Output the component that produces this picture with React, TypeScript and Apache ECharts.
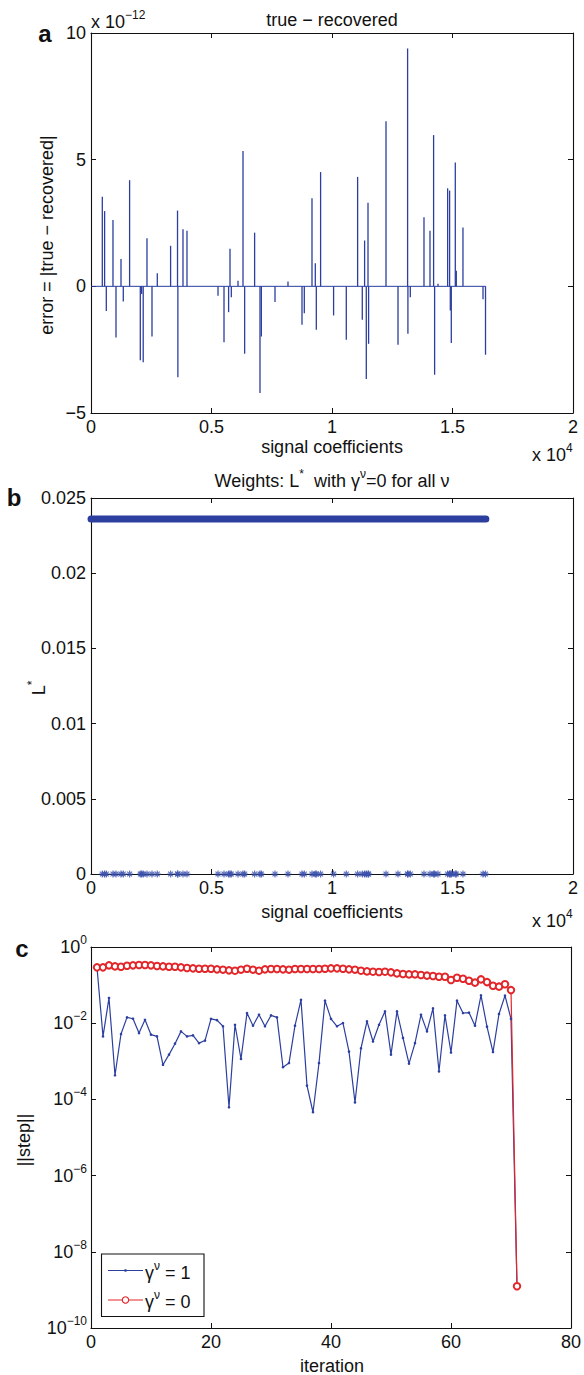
import React, { useEffect, useRef } from "react";
import * as echarts from "echarts";

const FONT = "'Liberation Sans', Arial, Helvetica, sans-serif";
const BLUE = "#2c3f9f";
const RED = "#e3262a";
const INK = "#111";

// ---------- Panel a: error per signal coefficient (units of 1e-12) ----------
const N_COEFF = 16384;
const spikeIdx = [469, 565, 635, 912, 1037, 1245, 1340, 1602, 2046, 2100, 2166, 2323, 2531, 2751, 3303, 3590, 3605, 3817, 3983, 5270, 5519, 5710, 5768, 5822, 6100, 6307, 6375, 6789, 7012, 7068, 7635, 8174, 8755, 8851, 9170, 9307, 9349, 9527, 10066, 10593, 11063, 11257, 11353, 11423, 11494, 11519, 12241, 12739, 13137, 13150, 13249, 13817, 14066, 14216, 14258, 14398, 14798, 14880, 14909, 14950, 15116, 15158, 15434, 16266, 16370];
const errorE12 = [3.54, 2.97, -0.97, 2.62, -2.02, 1.08, -0.6, 4.19, -2.92, -0.3, -3.0, 1.9, -1.98, 0.52, 1.6, 2.99, -3.59, 2.25, 2.19, -0.37, -2.21, -1.02, 1.48, -0.43, 0.22, 5.34, -2.66, 2.12, -4.21, -1.98, -0.62, 0.19, -1.52, -1.06, 3.48, 0.91, -1.71, 4.51, -1.15, -2.11, 4.32, -1.32, 1.81, -3.66, 3.3, -2.27, 6.52, -2.31, 9.39, -1.87, -0.43, 2.73, 2.19, 5.97, -3.49, 0.1, 3.87, 3.78, -0.95, -2.24, 4.89, 0.62, 2.32, -0.51, -2.7];
const xTicksSignal = [0, 5000, 10000, 15000, 20000];
const yTicksA = [-5, 0, 5, 10];

// ---------- Panel b: weights ----------
const weightOff = 0.0236; // weight for coefficients off the support
const weightOn = 0; // weight on the support (spikeIdx)
const yTicksB = [0, 0.005, 0.01, 0.015, 0.02, 0.025];

// ---------- Panel c: step norms per iteration ----------
const stepGamma1 = [0.29, 4.5e-3, 0.046, 4.3e-4, 5.2e-3, 0.0142, 0.0131, 5.5e-3, 0.0123, 5.0e-3, 4.5e-3, 8.1e-4, 1.5e-3, 2.9e-3, 6.1e-3, 4.5e-3, 4.8e-3, 3.0e-3, 3.5e-3, 0.013, 0.012, 8.3e-3, 6.2e-5, 9.1e-3, 1.15e-3, 0.0185, 8.6e-3, 0.0167, 8.3e-3, 0.016, 0.0142, 7.0e-4, 9e-4, 8.6e-3, 0.041, 2.3e-4, 4.6e-5, 9e-4, 0.039, 0.013, 8.3e-3, 0.0101, 1.8e-3, 8.3e-5, 2.2e-3, 0.0112, 3.3e-3, 9.1e-3, 0.0204, 1.5e-3, 0.0204, 4.1e-3, 8.7e-4, 3.0e-3, 0.0167, 6.1e-3, 0.0245, 5.4e-4, 0.016, 1.7e-3, 0.039, 0.0185, 0.019, 8.6e-3, 0.054, 8.1e-3, 1.75e-3, 0.0175, 0.053, 0.013, 1.25e-9];
const stepGamma0 = [0.292, 0.292, 0.33, 0.31, 0.304, 0.323, 0.33, 0.336, 0.336, 0.33, 0.317, 0.31, 0.304, 0.304, 0.292, 0.281, 0.275, 0.269, 0.269, 0.269, 0.259, 0.254, 0.244, 0.239, 0.254, 0.269, 0.254, 0.239, 0.259, 0.264, 0.264, 0.259, 0.254, 0.264, 0.264, 0.264, 0.264, 0.264, 0.269, 0.275, 0.275, 0.269, 0.259, 0.254, 0.239, 0.229, 0.225, 0.22, 0.225, 0.216, 0.203, 0.195, 0.191, 0.191, 0.184, 0.177, 0.173, 0.166, 0.166, 0.136, 0.156, 0.147, 0.13, 0.116, 0.141, 0.12, 0.096, 0.091, 0.105, 0.074, 1.25e-9];
const xTicksIter = [0, 20, 40, 60, 80];
const legendLabels = ["1", "0"];

const rich = {
  n: { fontSize: 18, verticalAlign: "middle", fontFamily: FONT, color: INK },
  s: { fontSize: 12, verticalAlign: "middle", padding: [0, 0, 14, 0], fontFamily: FONT, color: INK },
};

const minus = (s: string) => s.replace(/-/g, "\u2212");

const GRIDS = [
  { left: 91, top: 33, width: 482, height: 380 },
  { left: 91, top: 498, width: 482, height: 376 },
  { left: 91, top: 947, width: 482, height: 381 },
];

function axisBase(showLabel: boolean) {
  return {
    axisLine: { show: true, onZero: false, lineStyle: { color: INK, width: 1.1 } },
    axisTick: { show: true, inside: true, length: 5, lineStyle: { color: INK, width: 1 } },
    splitLine: { show: false },
    axisLabel: { show: showLabel, color: INK, fontSize: 18, fontFamily: FONT, margin: 5 },
  };
}

function xPair(gridIndex: number, ticks: number[], fmt: (v: number) => string) {
  const min = ticks[0];
  const max = ticks[ticks.length - 1];
  const interval = ticks[1] - ticks[0];
  const b = axisBase(true);
  const t = axisBase(false);
  return [
    { type: "value", gridIndex, position: "bottom", min, max, interval, ...b, axisLabel: { ...b.axisLabel, formatter: fmt } },
    { type: "value", gridIndex, position: "top", min, max, interval, ...t },
  ];
}

function yPair(gridIndex: number, ticks: number[], fmt: (v: number) => string) {
  const min = ticks[0];
  const max = ticks[ticks.length - 1];
  const interval = ticks[1] - ticks[0];
  const b = axisBase(true);
  const t = axisBase(false);
  return [
    { type: "value", gridIndex, position: "left", min, max, interval, ...b, axisLabel: { ...b.axisLabel, formatter: fmt } },
    { type: "value", gridIndex, position: "right", min, max, interval, ...t },
  ];
}

function logPair(gridIndex: number) {
  const b = axisBase(true);
  const t = axisBase(false);
  const fmt = (v: number) => {
    const e = Math.round(Math.log10(v));
    return `{n|10}{s|${minus(String(e))}}`;
  };
  return [
    { type: "log", logBase: 10, gridIndex, position: "left", min: 1e-10, max: 1, interval: 2, ...b, axisLabel: { ...b.axisLabel, margin: 4, formatter: fmt, rich } },
    { type: "log", logBase: 10, gridIndex, position: "right", min: 1e-10, max: 1, interval: 2, ...t },
  ];
}

function txt(x: number, y: number, text: string, extra: any = {}) {
  return {
    type: "text",
    x,
    y,
    rotation: extra.rotation || 0,
    style: {
      text,
      rich,
      fill: INK,
      font: `18px ${FONT}`,
      align: extra.align || "center",
      verticalAlign: extra.verticalAlign || "middle",
      ...(extra.style || {}),
    },
  };
}

function buildOption() {
  const sigFmt = (v: number) => String(v / 10000);
  const asterisk = "path://M5,0L5,10M0,5L10,5M1.5,1.5L8.5,8.5M1.5,8.5L8.5,1.5";

  const graphic: any[] = [
    // panel letters
    txt(45, 33, "a", { style: { font: `bold 24px ${FONT}` } }),
    txt(14, 497, "b", { style: { font: `bold 24px ${FONT}` } }),
    txt(22, 948, "c", { style: { font: `bold 24px ${FONT}` } }),
    // titles
    txt(332, 20, "true \u2212 recovered"),
    txt(332, 481, "{n|Weights: L}{s|*}{n|  with \u03b3}{s|\u03bd}{n|=0 for all \u03bd}"),
    // multipliers
    txt(91, 22, "{n|x 10}{s|\u221212}", { align: "left" }),
    txt(532, 455, "{n|x 10}{s|4}", { align: "left" }),
    txt(532, 921, "{n|x 10}{s|4}", { align: "left" }),
    // x axis names
    txt(332, 447, "signal coefficients"),
    txt(332, 912, "signal coefficients"),
    txt(332, 1366, "iteration"),
    // y axis names
    txt(47, 235, "error = |true \u2212 recovered|", { rotation: Math.PI / 2 }),
    txt(39, 688, "{n|L}{s|*}", { rotation: Math.PI / 2 }),
    txt(24, 1140, "||step||", { rotation: Math.PI / 2 }),
    // legend
    {
      type: "rect",
      shape: { x: 101.5, y: 1254, width: 102.5, height: 62.5 },
      style: { fill: "#fff", stroke: INK, lineWidth: 1.1 },
      z: 10,
    },
    { type: "line", shape: { x1: 108, y1: 1270.5, x2: 143, y2: 1270.5 }, style: { stroke: BLUE, lineWidth: 1.2 }, z: 11 },
    { type: "circle", shape: { cx: 125.5, cy: 1270.5, r: 1.3 }, style: { fill: BLUE }, z: 11 },
    { type: "line", shape: { x1: 108, y1: 1300, x2: 143, y2: 1300 }, style: { stroke: RED, lineWidth: 1.2 }, z: 11 },
    { type: "circle", shape: { cx: 125.5, cy: 1300, r: 3.2 }, style: { fill: "#fff", stroke: RED, lineWidth: 1.1 }, z: 11 },
    { ...txt(145, 1273, `{n|\u03b3}{s|\u03bd}{n| = ${legendLabels[0]}}`, { align: "left" }), z: 11 },
    { ...txt(145, 1302, `{n|\u03b3}{s|\u03bd}{n| = ${legendLabels[1]}}`, { align: "left" }), z: 11 },
  ];

  return {
    animation: false,
    backgroundColor: "#fff",
    textStyle: { fontFamily: FONT },
    grid: GRIDS.map((g) => ({ ...g, containLabel: false })),
    xAxis: [
      ...xPair(0, xTicksSignal, sigFmt),
      ...xPair(1, xTicksSignal, sigFmt),
      ...xPair(2, xTicksIter, (v) => String(v)),
    ],
    yAxis: [
      ...yPair(0, yTicksA, (v) => minus(String(v))),
      ...yPair(1, yTicksB, (v) => String(+v.toFixed(3))),
      ...logPair(2),
    ],
    series: [
      {
        type: "line",
        xAxisIndex: 0,
        yAxisIndex: 0,
        data: [
          [1, 0],
          [N_COEFF, 0],
        ],
        symbol: "none",
        lineStyle: { color: BLUE, width: 1 },
      },
      {
        type: "bar",
        xAxisIndex: 0,
        yAxisIndex: 0,
        data: spikeIdx.map((x, i) => [x, errorE12[i]]),
        barWidth: 1.3,
        itemStyle: { color: BLUE },
      },
      {
        type: "line",
        xAxisIndex: 2,
        yAxisIndex: 2,
        data: [
          [1, weightOff],
          [N_COEFF, weightOff],
        ],
        symbol: "none",
        clip: false,
        lineStyle: { color: BLUE, width: 7, cap: "round" },
      },
      {
        type: "scatter",
        xAxisIndex: 2,
        yAxisIndex: 2,
        data: spikeIdx.map((x) => [x, weightOn]),
        symbol: asterisk,
        symbolSize: 7,
        clip: false,
        itemStyle: { color: "rgba(0,0,0,0)", borderColor: "#3b50ad", borderWidth: 1.2 },
        z: 5,
      },
      {
        type: "line",
        xAxisIndex: 4,
        yAxisIndex: 4,
        data: stepGamma1.map((v, i) => [i + 1, v]),
        symbol: "circle",
        symbolSize: 2.6,
        clip: false,
        lineStyle: { color: BLUE, width: 1.2 },
        itemStyle: { color: BLUE },
      },
      {
        type: "line",
        xAxisIndex: 4,
        yAxisIndex: 4,
        data: stepGamma0.map((v, i) => [i + 1, v]),
        symbol: "emptyCircle",
        symbolSize: 6.5,
        clip: false,
        lineStyle: { color: RED, width: 1.2 },
        itemStyle: { color: RED, borderColor: RED, borderWidth: 1 },
      },
    ],
    graphic,
  };
}

export default function App() {
  const ref = useRef<HTMLDivElement>(null);
  useEffect(() => {
    const chart = echarts.init(ref.current!, null, { renderer: "svg", width: 584, height: 1375 });
    chart.setOption(buildOption() as any);
    return () => chart.dispose();
  }, []);
  return (
    <div
      ref={ref}
      style={{ position: "absolute", left: 0, top: 0, width: 584, height: 1375, background: "#fff" }}
    />
  );
}
